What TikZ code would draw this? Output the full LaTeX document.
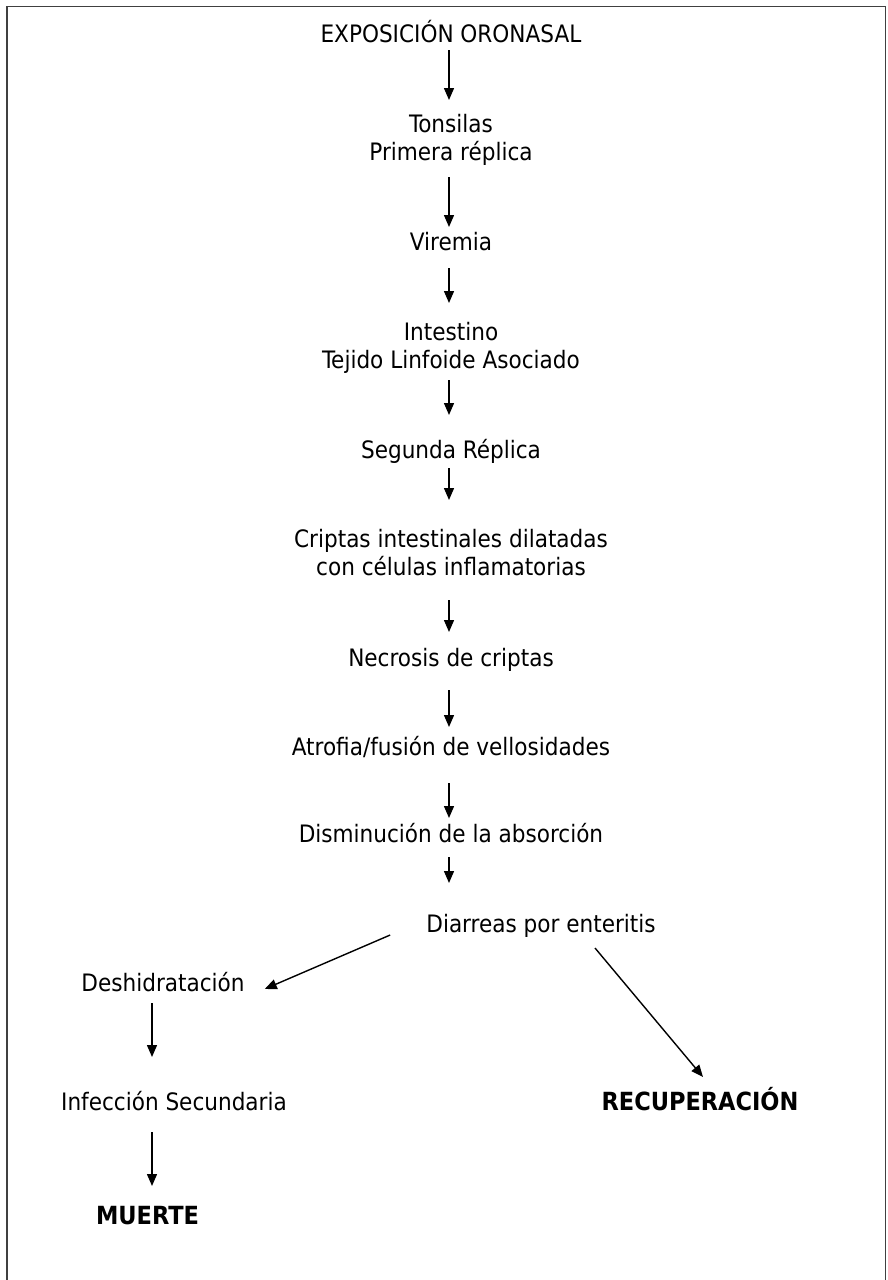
\documentclass[tikz,border=0pt]{standalone}
\usepackage{fontspec}
\setmainfont{DejaVu Sans Condensed}
\usepackage{tikz}
\usetikzlibrary{arrows.meta,positioning}

\begin{document}
\begin{tikzpicture}[
    x=1pt, y=1pt,
    arrowstyle/.style={draw, line width=1.4pt, -{Triangle[length=12pt,width=10pt]}},
    stage/.style={inner sep=0pt, anchor=base, align=center,
        font=\fontsize{24}{28}\selectfont},
    outcome/.style={stage, font=\fontsize{25}{28}\selectfont\bfseries},
    frame/.style={draw=black!75, line width=1.6pt}
]
\useasboundingbox (0,0) rectangle (887,-1280);
\draw[frame] (7,-1280) -- (7,-6.5) -- (885.5,-6.5) -- (885.5,-1280);

% main chain
\node (Exposicion) [stage] at (451,-42) {EXPOSICIÓN ORONASAL};
\node (Tonsilas) [stage] at (451,-160) {Tonsilas\\Primera réplica};
\node (Viremia) [stage] at (451,-250) {Viremia};
\node (Intestino) [stage] at (451,-368) {Intestino\\Tejido Linfoide Asociado};
\node (Segunda) [stage] at (451,-458) {Segunda Réplica};
\node (Criptas) [stage] at (451,-575) {Criptas intestinales dilatadas\\con células inflamatorias};
\node (Necrosis) [stage] at (451,-666) {Necrosis de criptas};
\node (Atrofia) [stage] at (451,-755) {Atrofia/fusión de vellosidades};
\node (Disminucion) [stage] at (451,-842) {Disminución de la absorción};
\node (Diarreas) [stage] at (541,-932) {Diarreas por enteritis};

% branches
\node (Deshidratacion) [stage] at (163,-991) {Deshidratación};
\node (Infeccion) [stage] at (174,-1110) {Infección Secundaria};
\node (Muerte) [outcome] at (147.5,-1224) {MUERTE};
\node (Recuperacion) [outcome] at (700,-1110) {RECUPERACIÓN};

\draw[arrowstyle] ([xshift=-2pt,yshift=-8pt]Exposicion.base) -- ([xshift=-2pt,yshift=60pt]Tonsilas.base);
\draw[arrowstyle] ([xshift=-2pt,yshift=-17pt]Tonsilas.base) -- ([xshift=-2pt,yshift=23pt]Viremia.base);
\draw[arrowstyle] ([xshift=-2pt,yshift=-18pt]Viremia.base) -- ([xshift=-2pt,yshift=65pt]Intestino.base);
\draw[arrowstyle] ([xshift=-2pt,yshift=-12pt]Intestino.base) -- ([xshift=-2pt,yshift=43pt]Segunda.base);
\draw[arrowstyle] ([xshift=-2pt,yshift=-10pt]Segunda.base) -- ([xshift=-2pt,yshift=75pt]Criptas.base);
\draw[arrowstyle] ([xshift=-2pt,yshift=-25pt]Criptas.base) -- ([xshift=-2pt,yshift=34pt]Necrosis.base);
\draw[arrowstyle] ([xshift=-2pt,yshift=-24pt]Necrosis.base) -- ([xshift=-2pt,yshift=28pt]Atrofia.base);
\draw[arrowstyle] ([xshift=-2pt,yshift=-28pt]Atrofia.base) -- ([xshift=-2pt,yshift=24pt]Disminucion.base);
\draw[arrowstyle] ([xshift=-2pt,yshift=-15pt]Disminucion.base) -- ([xshift=-2pt,yshift=49pt]Disminucion.base |- Diarreas.base);
\draw[arrowstyle] ([shift={(-36pt,-3pt)}]Diarreas.base west) -- ([shift={(20pt,2pt)}]Deshidratacion.base east);
\draw[arrowstyle] ([shift={(54pt,-16pt)}]Diarreas.base) -- ([shift={(3pt,33pt)}]Recuperacion.base);
\draw[arrowstyle] ([shift={(-11pt,-12pt)}]Deshidratacion.base) -- ([shift={(-22pt,53pt)}]Infeccion.base);
\draw[arrowstyle] ([shift={(-22pt,-22pt)}]Infeccion.base) -- ([shift={(4.5pt,38pt)}]Muerte.base);
\end{tikzpicture}
\end{document}
